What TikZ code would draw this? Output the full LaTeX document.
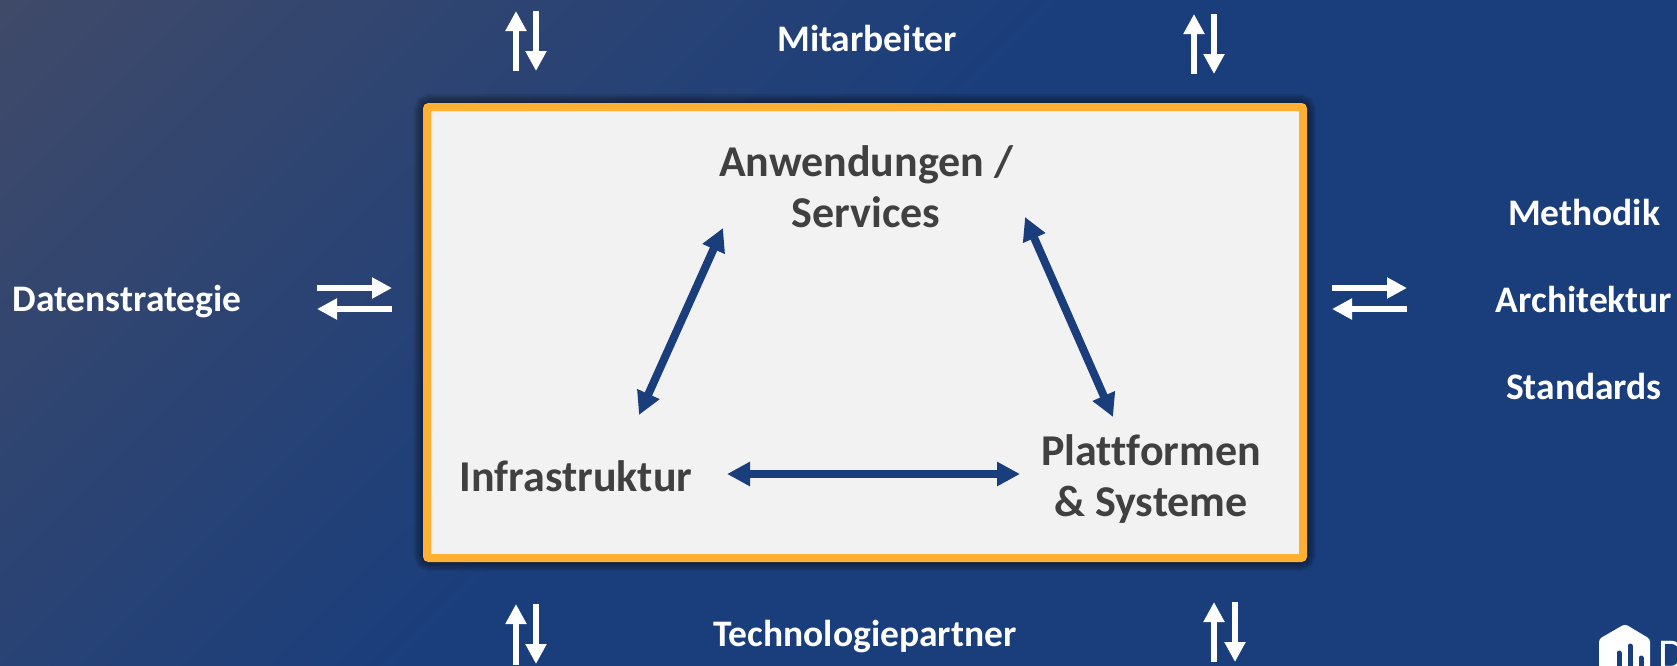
\documentclass[tikz,border=0pt]{standalone}
\usepackage{fontspec}
\setmainfont[Ligatures=NoCommon]{Carlito}
\usetikzlibrary{arrows.meta}
\definecolor{navy}{HTML}{1A3E7C}
\definecolor{slate}{HTML}{404A68}
\definecolor{amber}{HTML}{FFB033}
\definecolor{paper}{HTML}{F2F2F2}
\definecolor{ink}{HTML}{404040}
\pgfdeclarehorizontalshading{bgfade}{100bp}{color(0bp)=(slate); color(14bp)=(slate); color(47bp)=(navy); color(100bp)=(navy)}
\begin{document}
\begin{tikzpicture}[x=1pt, y=-1pt]
		\tikzset{outlbl/.style={text=white, font=\fontsize{37.5}{44}\selectfont\bfseries, inner sep=0pt}};
		\tikzset{inlbl/.style={text=ink, font=\fontsize{44}{51}\selectfont\bfseries, inner sep=0pt, align=center}};
		\tikzset{whitearr/.style={draw=white, line width=6.5pt, -{Triangle[length=20pt, width=20pt]}}};
		\tikzset{bluearr/.style={draw=navy, line width=8pt, {Triangle[length=23pt, width=23pt]}-{Triangle[length=23pt, width=23pt]}}};

		\useasboundingbox (0, 0) rectangle (1677, 665);
		\shade[shading=bgfade, shading angle=-45] (0, 0) rectangle (1677, 665);

		\foreach \w in {26, 22, 18, 14, 10}
			\draw[black, opacity=0.1, line width=\w pt, rounded corners=4pt] (427, 107) rectangle (1303, 558);
		\draw[draw=amber, fill=paper, line width=8pt, rounded corners=2pt] (427, 107) rectangle (1303, 558);

		\node[outlbl] (mit) at (867, 38) {Mitarbeiter};
		\node[outlbl] (tech) at (865, 637) {Technologiepartner};
		\node[outlbl] (daten) at (127, 302) {Datenstrategie};
		\node[outlbl] (meth) at (1584, 212) {Methodik};
		\node[outlbl] (arch) at (1584, 299) {Architektur};
		\node[outlbl] (stand) at (1584, 386) {Standards};

		\node[inlbl] (anw) at (866, 187) {Anwendungen /\\Services};
		\node[inlbl] (infra) at (576, 476) {Infrastruktur};
		\node[inlbl] (platt) at (1151, 479) {Plattformen\\\& Systeme};

		\draw[bluearr] ([shift={(63, -61)}]infra.center) -- ([shift={(-143, 41)}]anw.center);
		\draw[bluearr] ([shift={(159, 30)}]anw.center) -- ([shift={(-38, -62)}]platt.center);
		\draw[bluearr] ([shift={(151, -2)}]infra.center) -- ([shift={(-131, -5)}]platt.center);

		\coordinate (tlu1) at (516, 71);
		\coordinate (tlu2) at (516, 11);
		\coordinate (tld1) at (536, 11);
		\coordinate (tld2) at (536, 71);
		\coordinate (tru1) at (1194, 74);
		\coordinate (tru2) at (1194, 14);
		\coordinate (trd1) at (1214, 14);
		\coordinate (trd2) at (1214, 74);
		\coordinate (blu1) at (516, 665);
		\coordinate (blu2) at (516, 604);
		\coordinate (bld1) at (536, 604);
		\coordinate (bld2) at (536, 664);
		\coordinate (bru1) at (1214, 662);
		\coordinate (bru2) at (1214, 602);
		\coordinate (brd1) at (1235, 602);
		\coordinate (brd2) at (1235, 662);
		\coordinate (lr1) at (317, 288);
		\coordinate (lr2) at (392, 288);
		\coordinate (ll1) at (392, 309);
		\coordinate (ll2) at (317, 309);
		\coordinate (rr1) at (1332, 288);
		\coordinate (rr2) at (1407, 288);
		\coordinate (rl1) at (1407, 309);
		\coordinate (rl2) at (1332, 309);

		\draw[whitearr] (tlu1) to (tlu2);
		\draw[whitearr] (tld1) to (tld2);
		\draw[whitearr] (tru1) to (tru2);
		\draw[whitearr] (trd1) to (trd2);
		\draw[whitearr] (blu1) to (blu2);
		\draw[whitearr] (bld1) to (bld2);
		\draw[whitearr] (bru1) to (bru2);
		\draw[whitearr] (brd1) to (brd2);
		\draw[whitearr] (lr1) to (lr2);
		\draw[whitearr] (ll1) to (ll2);
		\draw[whitearr] (rr1) to (rr2);
		\draw[whitearr] (rl1) to (rl2);

		\begin{scope}
			\clip (0, 0) rectangle (1677, 665);
			\fill[white, rounded corners=3pt] (1599, 690) -- (1599, 639) -- (1625, 624) -- (1650, 639) -- (1650, 690) -- cycle;
			\draw[navy, line width=5pt, line cap=round] (1619, 653) -- (1619, 680);
			\draw[navy, line width=5pt, line cap=round] (1630, 646) -- (1630, 680);
			\draw[navy, line width=5pt, line cap=round] (1641, 658) -- (1641, 680);
			\node[text=white, font=\fontsize{44}{50}\selectfont, inner sep=0pt, anchor=base west] (logod) at (1658, 669) {D};
		\end{scope}
	\end{tikzpicture}
\end{document}
